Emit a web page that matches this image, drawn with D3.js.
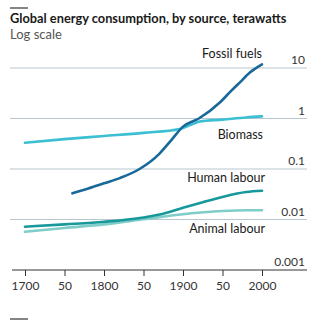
<!DOCTYPE html>
<html>
<head>
<meta charset="utf-8">
<script src="https://cdn.jsdelivr.net/npm/d3@7"></script>
<style>
  body { margin: 0; background: #fff; }
  svg { font-family: Lato, "Open Sans", sans-serif; }
</style>
</head>
<body>
<div id="chart"></div>
<script>
// values in terawatts, read per year
var fossilYears = [1760, 1780, 1800, 1820, 1845, 1870, 1885, 1900, 1920, 1947, 1960, 1972, 1985, 2000];
var fossilVals  = [0.033, 0.041, 0.052, 0.066, 0.1, 0.2, 0.37, 0.69, 1.0, 2.1, 3.4, 5.2, 8.2, 11.8];

var biomassYears = [1700, 1750, 1800, 1850, 1896, 1910, 1921, 1950, 1980, 2000];
var biomassVals  = [0.33, 0.39, 0.45, 0.52, 0.62, 0.75, 0.87, 0.95, 1.05, 1.1];

var humanYears = [1700, 1750, 1800, 1850, 1875, 1900, 1925, 1950, 1980, 2000];
var humanVals  = [0.0072, 0.008, 0.009, 0.011, 0.013, 0.017, 0.022, 0.028, 0.035, 0.037];

var animalYears = [1700, 1750, 1800, 1850, 1900, 1950, 1980, 2000];
var animalVals  = [0.0057, 0.0068, 0.008, 0.0101, 0.0127, 0.0147, 0.0152, 0.0152];

var xTicks = [1700, 1750, 1800, 1850, 1900, 1950, 2000];
var xTickLabels = ["1700", "50", "1800", "50", "1900", "50", "2000"];
var yTicks = [10, 1, 0.1, 0.01, 0.001];
var yTickLabels = ["10", "1", "0.1", "0.01", "0.001"];

var W = 322, H = 321;

var svg = d3.select("#chart").append("svg")
  .attr("width", W)
  .attr("height", H);

var x = d3.scaleLinear().domain([1700, 2000]).range([25, 262]);
var y = d3.scaleLog().domain([0.001, 10]).range([270, 68]);

// top and bottom rules
svg.append("line").attr("x1", 10).attr("x2", 28).attr("y1", 8).attr("y2", 8)
  .style("stroke", "#333").style("stroke-width", 1.2);
svg.append("line").attr("x1", 10).attr("x2", 28).attr("y1", 319).attr("y2", 319)
  .style("stroke", "#333").style("stroke-width", 1.2);

svg.append("text").attr("x", 10).attr("y", 23)
  .style("font-size", "12.8px").style("font-weight", "bold").style("fill", "#1a1a1a")
  .text("Global energy consumption, by source, terawatts");
svg.append("text").attr("x", 10).attr("y", 39)
  .style("font-size", "13px").style("fill", "#555")
  .text("Log scale");

// gridlines + tick labels
svg.selectAll(".grid").data(yTicks.slice(0, 4))
  .enter().append("line")
  .attr("class", "grid")
  .attr("x1", 10).attr("x2", 307)
  .attr("y1", function(d) {return y(d);})
  .attr("y2", function(d) {return y(d);})
  .style("stroke", "#b9c7cf").style("stroke-width", 1);

svg.selectAll(".ylabel").data(yTicks)
  .enter().append("text")
  .attr("class", "ylabel")
  .attr("x", 305)
  .attr("y", function(d) {return y(d) - 4;})
  .attr("text-anchor", "end")
  .style("font-size", "12px").style("fill", "#333")
  .text(function(d, i) {return yTickLabels[i];});

// x axis
var xAxis = d3.axisBottom(x)
  .tickValues(xTicks)
  .tickSize(6)
  .tickFormat(function(d, i) {return xTickLabels[i];});

var gx = svg.append("g")
  .attr("transform", "translate(0," + y(0.001) + ")")
  .call(xAxis);
gx.select(".domain").remove();
gx.append("line").attr("x1", 12).attr("x2", 307)
  .style("stroke", "#333").style("stroke-width", 1);
gx.selectAll(".tick line").style("stroke", "#333");
gx.selectAll(".tick text")
  .attr("dy", "0.9em")
  .style("font-family", "Lato, 'Open Sans', sans-serif")
  .style("font-size", "12px").style("fill", "#333");

var line = d3.line()
  .x(function(d) {return x(d[0]);})
  .y(function(d) {return y(d[1]);})
  .curve(d3.curveMonotoneX);

function series(years, vals, colour) {
  svg.append("path")
    .datum(d3.zip(years, vals))
    .style("fill", "none")
    .style("stroke", colour)
    .style("stroke-width", 2.6)
    .style("stroke-linecap", "round")
    .attr("d", line);
}

series(animalYears, animalVals, "#7fcdc9");
series(humanYears, humanVals, "#17989a");
series(biomassYears, biomassVals, "#3cbfd2");
series(fossilYears, fossilVals, "#18689a");

// series labels
var labels = [
  {t: "Fossil fuels", x: 262, y: 58},
  {t: "Biomass", x: 263, y: 139},
  {t: "Human labour", x: 265, y: 182},
  {t: "Animal labour", x: 265, y: 233}
];
svg.selectAll(".slabel").data(labels)
  .enter().append("text")
  .attr("class", "slabel")
  .attr("x", function(d) {return d.x;})
  .attr("y", function(d) {return d.y;})
  .attr("text-anchor", "end")
  .style("font-size", "12.5px").style("fill", "#1a1a1a")
  .text(function(d) {return d.t;});
</script>
</body>
</html>
